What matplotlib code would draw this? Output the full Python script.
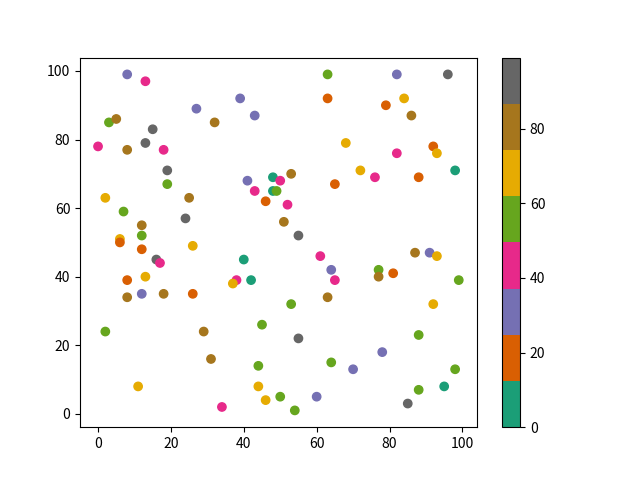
import matplotlib
matplotlib.use("Agg")
import matplotlib.pyplot as plt

plt.rcParams['font.family'] = ['Noto Sans CJK SC', 'DejaVu Sans']

# 读图估计的点坐标和颜色值
x = [8, 13, 63, 82, 96, 3, 5, 27, 32, 39, 63, 43, 84, 79, 86, 15, 0, 13, 8, 18,
     19, 19, 2, 25, 7, 24, 12, 12, 6, 6, 68, 48, 50, 53, 41, 43, 48, 49, 65, 46,
     52, 51, 55, 92, 93, 82, 72, 76, 88, 98, 12, 26, 16, 17, 8, 13, 8, 12, 18, 26,
     2, 29, 31, 11, 34, 61, 40, 64, 65, 38, 37, 42, 63, 53, 45, 55, 44, 64, 44, 46,
     50, 60, 54, 70, 87, 91, 93, 77, 77, 81, 99, 92, 88, 78, 98, 95, 88, 85]
y = [99, 97, 99, 99, 99, 85, 86, 89, 85, 92, 92, 87, 92, 90, 87, 83, 78, 79, 77, 77,
     71, 67, 63, 63, 59, 57, 55, 52, 51, 50, 79, 69, 68, 70, 68, 65, 65, 65, 67, 62,
     61, 56, 52, 78, 76, 76, 71, 69, 69, 71, 48, 49, 45, 44, 39, 40, 34, 35, 35, 35,
     24, 24, 16, 8, 2, 46, 45, 42, 39, 39, 38, 39, 34, 32, 26, 22, 14, 15, 8, 4,
     5, 5, 1, 13, 47, 47, 46, 42, 40, 41, 39, 32, 23, 18, 13, 8, 7, 3]
c = [31, 43, 56, 31, 93, 56, 80, 31, 80, 31, 18, 31, 68, 18, 80, 93, 43, 93, 80, 43,
     93, 56, 68, 80, 56, 93, 80, 56, 68, 18, 68, 6, 43, 80, 31, 43, 6, 56, 18, 18,
     43, 80, 93, 18, 68, 43, 68, 43, 18, 6, 18, 68, 93, 43, 18, 68, 80, 31, 80, 18,
     56, 80, 80, 68, 43, 43, 6, 31, 43, 43, 68, 6, 80, 56, 56, 93, 56, 56, 68, 68,
     56, 31, 56, 31, 80, 31, 68, 56, 80, 18, 56, 68, 56, 31, 56, 6, 56, 93]

plt.scatter(x, y, c=c, cmap="Dark2", vmin=0, vmax=99)
plt.colorbar()

plt.savefig("out.png", dpi=100)
